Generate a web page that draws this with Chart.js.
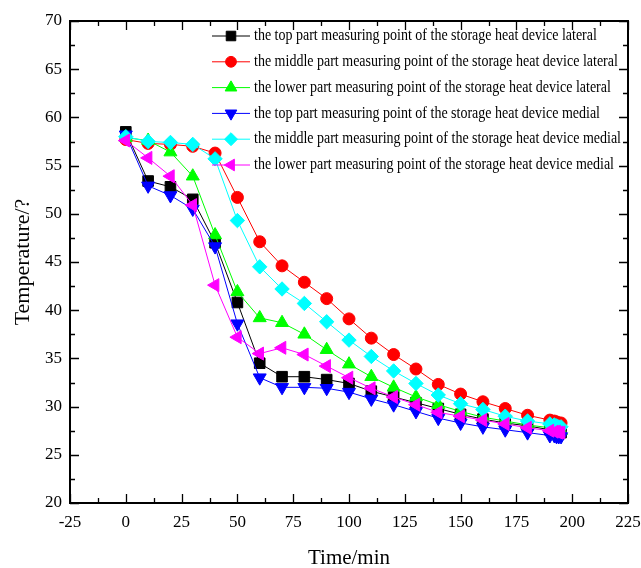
<!DOCTYPE html>
<html>
<head>
<meta charset="utf-8">
<script src="https://cdn.jsdelivr.net/npm/chart.js@4.4.0/dist/chart.umd.min.js"></script>
<style>
  html, body { margin: 0; padding: 0; background: #fff; }
</style>
</head>
<body>
<canvas id="tempChart" width="641" height="568"></canvas>
<script>
// time axis (min)
var times = [0, 10, 20, 30, 40, 50, 60, 70, 80, 90, 100, 110, 120, 130, 140, 150, 160, 170, 180, 190, 192, 193, 194, 195];

// temperatures
var topLateral    = [58.5, 53.4, 52.8, 51.5, 47.0, 40.8, 34.5, 33.1, 33.1, 32.8, 32.4, 31.6, 31.0, 30.4, 29.8, 29.2, 28.7, 28.3, 28.0, 27.6, 27.5, 27.4, 27.3, 27.3];
var middleLateral = [57.7, 57.3, 57.2, 57.0, 56.3, 51.7, 47.1, 44.6, 42.9, 41.2, 39.1, 37.1, 35.4, 33.9, 32.3, 31.3, 30.5, 29.8, 29.1, 28.6, 28.5, 28.4, 28.3, 28.3];
var lowerLateral  = [57.9, 57.6, 56.4, 53.9, 47.8, 41.9, 39.2, 38.7, 37.5, 35.9, 34.4, 33.1, 32.0, 31.0, 30.2, 29.5, 28.9, 28.5, 28.1, 27.8, 27.7, 27.6, 27.6, 27.5];
var topMedial     = [58.2, 52.9, 51.9, 50.5, 46.6, 38.6, 33.0, 32.0, 32.0, 31.9, 31.5, 30.8, 30.2, 29.5, 28.8, 28.3, 27.9, 27.6, 27.3, 27.0, 27.0, 26.9, 26.9, 26.9];
var middleMedial  = [58.0, 57.5, 57.4, 57.2, 55.7, 49.3, 44.5, 42.2, 40.7, 38.8, 36.9, 35.2, 33.7, 32.4, 31.2, 30.3, 29.7, 29.0, 28.5, 28.2, 28.1, 28.0, 27.9, 27.9];
var lowerMedial   = [57.6, 55.8, 53.9, 50.9, 42.6, 37.2, 35.5, 36.1, 35.4, 34.2, 33.0, 31.9, 31.0, 30.2, 29.4, 29.0, 28.6, 28.2, 27.8, 27.5, 27.4, 27.4, 27.3, 27.3];

var seriesNames = [
  'the top part measuring point of the storage heat device lateral',
  'the middle part measuring point of the storage heat device lateral',
  'the lower part measuring point of the storage heat device lateral',
  'the top part measuring point of the storage heat device medial',
  'the middle part measuring point of the storage heat device medial',
  'the lower part measuring point of the storage heat device medial'
];
var seriesValues = [topLateral, middleLateral, lowerLateral, topMedial, middleMedial, lowerMedial];
var colors = ['#000000', '#ff0000', '#00ff00', '#0000ff', '#00ffff', '#ff00ff'];
var styles = ['rect', 'circle', 'triangle', 'triangle', 'rectRot', 'triangle'];
var rotations = [0, 0, 0, 180, 0, -90];
var radii = [7.5, 6, 7.5, 7.5, 7.2, 7.5];

var serif = '"Liberation Serif", "Times New Roman", serif';

function toPoints(vals) {
  return times.map(function(t, i) { return { x: t, y: vals[i] }; });
}

var datasets = seriesValues.map(function(vals, i) {
  return {
    label: seriesNames[i],
    data: toPoints(vals),
    borderColor: colors[i],
    backgroundColor: colors[i],
    borderWidth: 1,
    pointStyle: styles[i],
    pointRotation: rotations[i],
    pointRadius: radii[i],
    pointBorderWidth: 1,
    tension: 0,
    order: seriesValues.length - i // later series on top, like the original
  };
});

// frame, inward ticks and the legend inside the plot
var framePlugin = {
  id: 'frame',
  afterDraw: function(chart) {
    var a = chart.chartArea, ctx = chart.ctx;
    var xs = chart.scales.x, ys = chart.scales.y;
    ctx.save();
    ctx.strokeStyle = '#000';
    ctx.lineWidth = 2;
    ctx.strokeRect(a.left, a.top, a.right - a.left, a.bottom - a.top);

    ctx.lineWidth = 1.3;
    ctx.beginPath();
    for (var v = -25; v <= 225; v += 12.5) {
      var px = Math.round(xs.getPixelForValue(v)) + 0.5;
      var len = (v % 25 === 0) ? 9 : 5;
      ctx.moveTo(px, a.bottom); ctx.lineTo(px, a.bottom - len);
      ctx.moveTo(px, a.top); ctx.lineTo(px, a.top + len);
    }
    for (var w = 20; w <= 70; w += 2.5) {
      var py = Math.round(ys.getPixelForValue(w)) + 0.5;
      var l2 = (w % 5 === 0) ? 9 : 5;
      ctx.moveTo(a.left, py); ctx.lineTo(a.left + l2, py);
      ctx.moveTo(a.right, py); ctx.lineTo(a.right - l2, py);
    }
    ctx.stroke();

    // legend
    var rowY = 36, rowH = 25.8;
    for (var i = 0; i < chart.data.datasets.length; i++) {
      var ds = chart.data.datasets[i];
      var y = rowY + i * rowH;
      ctx.strokeStyle = ds.borderColor;
      ctx.fillStyle = ds.backgroundColor;
      ctx.lineWidth = 1;
      ctx.beginPath();
      ctx.moveTo(212, y); ctx.lineTo(250, y);
      ctx.stroke();
      Chart.helpers.drawPoint(ctx, {
        pointStyle: ds.pointStyle,
        rotation: ds.pointRotation,
        radius: ds.pointRadius * 0.9,
        borderWidth: 1
      }, 231, y);

      ctx.save();
      ctx.translate(254, y);
      ctx.scale(0.875, 1);
      ctx.fillStyle = '#000';
      ctx.font = '16px ' + serif;
      ctx.textBaseline = 'middle';
      ctx.fillText(ds.label, 0, 0);
      ctx.restore();
    }
    ctx.restore();
  }
};

var ctx = document.getElementById('tempChart').getContext('2d');
var tempChart = new Chart(ctx, {
  type: 'line',
  data: { datasets: datasets },
  options: {
    responsive: false,
    animation: false,
    layout: { padding: { top: 21, right: 13, left: 0, bottom: 0 } },
    plugins: {
      legend: { display: false },
      tooltip: { enabled: false }
    },
    scales: {
      x: {
        type: 'linear',
        min: -25,
        max: 225,
        grid: { display: false },
        border: { display: false },
        ticks: {
          stepSize: 25,
          padding: 1,
          color: '#000',
          font: { family: serif, size: 17 }
        },
        title: {
          display: true,
          text: 'Time/min',
          color: '#000',
          padding: { top: 0, bottom: -3 },
          font: { family: serif, size: 21 }
        },
        afterFit: function(scale) {
          scale.height = 65;
          scale.paddingLeft = 0;
          scale.paddingRight = 0;
        }
      },
      y: {
        min: 20,
        max: 70,
        grid: { display: false },
        border: { display: false },
        ticks: {
          stepSize: 5,
          padding: 0,
          color: '#000',
          font: { family: serif, size: 17 }
        },
        title: {
          display: true,
          text: 'Temperature/?',
          color: '#000',
          padding: { top: 10, bottom: 0 },
          font: { family: serif, size: 22 }
        },
        afterFit: function(scale) {
          scale.width = 70;
          scale.paddingTop = 0;
          scale.paddingBottom = 0;
        }
      }
    }
  },
  plugins: [framePlugin]
});
</script>
</body>
</html>
